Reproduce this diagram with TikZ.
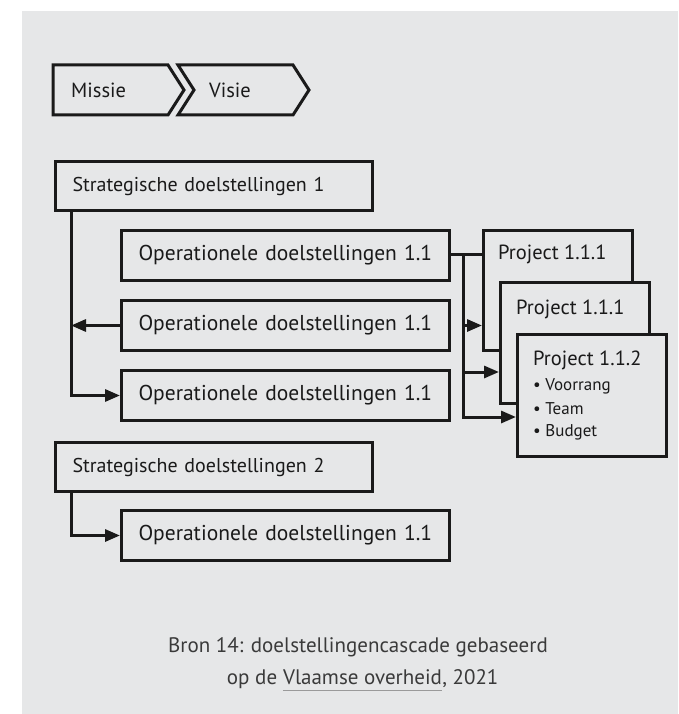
\documentclass[tikz,border=0pt]{standalone}
\usepackage{fontspec}
\setmainfont{PT Sans}
\usetikzlibrary{arrows.meta,calc}
\definecolor{bg}{HTML}{E6E7E8}
\definecolor{ink}{HTML}{1A1A1A}
\definecolor{captxt}{HTML}{3A3A3A}
\definecolor{rule}{HTML}{9A9A9A}
\begin{document}
\begin{tikzpicture}[x=1pt,y=-1pt,
  box/.style={draw=ink,line width=3pt,fill=bg,anchor=north west,inner xsep=17pt,inner ysep=0pt,
    align=left,font=\fontsize{21.5}{24}\selectfont,text=ink},
  sbox/.style={box,font=\fontsize{20}{24}\selectfont},
  pbox/.style={draw=ink,line width=3pt,fill=bg,anchor=north west,inner sep=0pt},
  ptext/.style={anchor=west,inner sep=0pt,text=ink,font=\fontsize{20.5}{24}\selectfont},
  bullet/.style={anchor=west,inner sep=0pt,text=ink,font=\fontsize{17}{20}\selectfont},
  label/.style={anchor=west,inner sep=0pt,text=ink,font=\fontsize{20.5}{24}\selectfont},
  captext/.style={inner sep=0pt,text=captxt,font=\fontsize{21}{25}\selectfont},
  conn/.style={draw=ink,line width=3pt},
  arr/.style={conn,-{Triangle[length=15pt,width=12pt]}},
]
\useasboundingbox (0,0) rectangle (678,714);
\fill[bg] (22,11) rectangle (678,714);

% mission and vision chevrons
\draw[ink,line width=3pt,line join=miter] (53,65) -- (168,65) -- (184,90) -- (168,115) -- (53,115) -- cycle;
\draw[ink,line width=3pt,line join=miter] (178,65) -- (293,65) -- (309,90) -- (293,115) -- (178,115) -- (194,90) -- cycle;
\node[label] (missie) at (71,90) {Missie};
\node[label] (visie) at (209,90) {Visie};

% strategic and operational objectives
\node[sbox,text width=283pt,minimum height=49pt] (s1) at (54,160) {Strategische doelstellingen 1};
\node[box,text width=294pt,minimum height=50pt] (o1) at (120,229) {Operationele doelstellingen 1.1};
\node[box,text width=294pt,minimum height=50pt] (o2) at (120,299) {Operationele doelstellingen 1.1};
\node[box,text width=294pt,minimum height=50pt] (o3) at (120,369) {Operationele doelstellingen 1.1};
\node[sbox,text width=283pt,minimum height=49pt] (s2) at (54,441) {Strategische doelstellingen 2};
\node[box,text width=294pt,minimum height=50pt] (o4) at (120,509) {Operationele doelstellingen 1.1};

% projects, stacked
\node[pbox,minimum width=149pt,minimum height=120pt] (p1) at (482,229) {};
\node[pbox,minimum width=149pt,minimum height=121pt] (p2) at (499,281) {};
\node[pbox,minimum width=149pt,minimum height=122pt] (p3) at (516,333) {};
\node[ptext] (p1t) at (498,254) {Project 1.1.1};
\node[ptext] (p2t) at (516,309) {Project 1.1.1};
\node[ptext] (p3t) at (533,360) {Project 1.1.2};
\node[bullet] (b1) at (533,386) {\textbullet\ Voorrang};
\node[bullet] (b2) at (533,409) {\textbullet\ Team};
\node[bullet] (b3) at (533,432) {\textbullet\ Budget};

% connectors on the left
\coordinate (s1f) at ($(s1.south west)+(17,0)$);
\coordinate (s2f) at ($(s2.south west)+(17,0)$);
\draw[arr] (s1f) |- (o3.west);
\draw[arr] (o2.west) -- (o2.west -| s1f);
\draw[arr] (s2f) |- (o4.west);

% connectors to the projects
\coordinate (jn) at (463,254);
\draw[conn] (o1.east |- jn) -- (p1.west |- jn);
\draw[arr] (jn) |- (p3.west |- 0,417);
\draw[arr] (jn |- o2.west) -- (p1.west |- o2.west);
\draw[arr] (jn |- 0,372) -- (p2.west |- 0,372);

% caption
\node[captext] (c1) at (358,647) {Bron 14: doelstellingencascade gebaseerd};
\node[captext,anchor=base] (vo) at (362.5,684) {Vlaamse overheid};
\node[captext,anchor=base east] (c2a) at ($(vo.base west)+(-5.5,0)$) {op de};
\node[captext,anchor=base west] (c2b) at (vo.base east) {, 2021};
\draw[rule,line width=1.5pt] ($(vo.south west)+(0,6)$) -- ($(vo.south east)+(0,6)$);
\end{tikzpicture}
\end{document}
